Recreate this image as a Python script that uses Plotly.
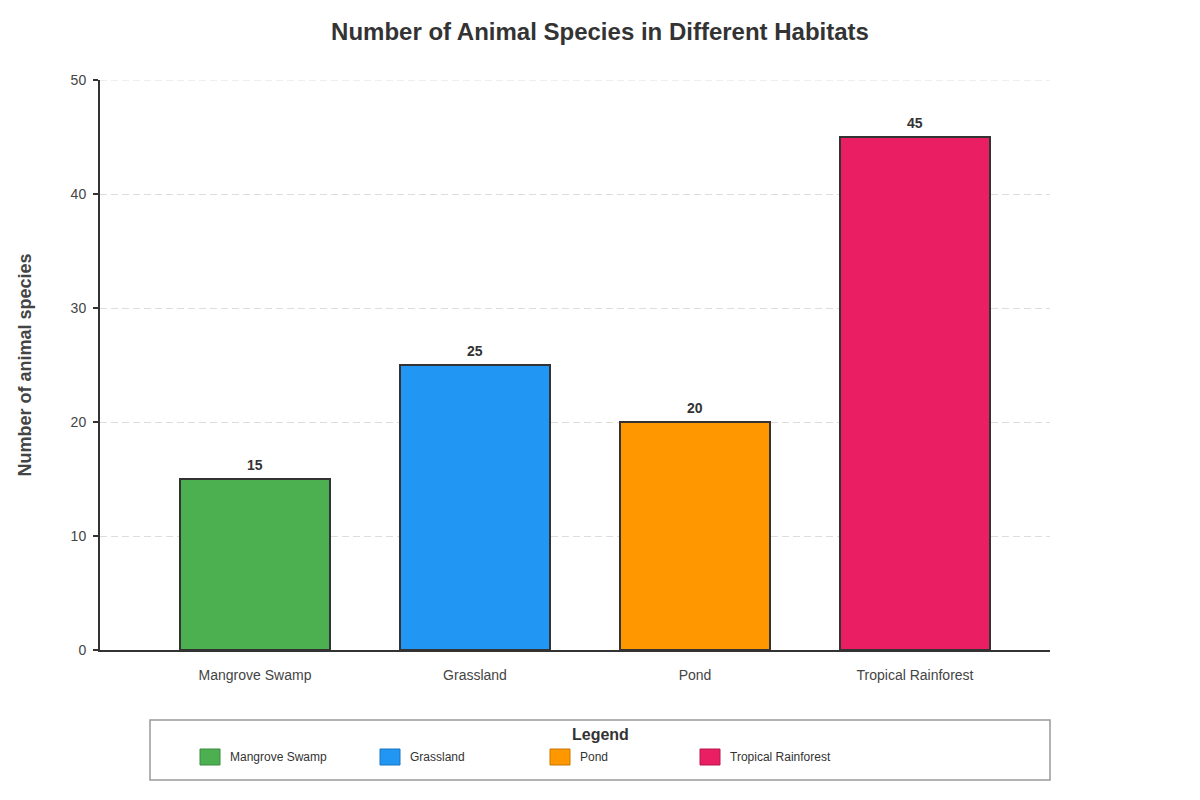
import plotly.graph_objects as go

# chart data
habitats = ["Mangrove Swamp", "Grassland", "Pond", "Tropical Rainforest"]
species_counts = [15, 25, 20, 45]
bar_colors = ["#4CAF50", "#2196F3", "#FF9800", "#E91E63"]
swatch_borders = ["#3b8a3e", "#1a75c0", "#c77700", "#b5174c"]
y_ticks = [0, 10, 20, 30, 40, 50]

FONT = "Liberation Sans, Arial, sans-serif"

# plot area in pixels (for placing the hand-drawn legend)
PLOT_L, PLOT_R, PLOT_T, PLOT_B = 100, 1050, 80, 650


def px_x(px):
    return (px - PLOT_L) / (PLOT_R - PLOT_L)


def px_y(py):
    return (PLOT_B - py) / (PLOT_B - PLOT_T)


fig = go.Figure()

fig.add_trace(go.Bar(
    x=list(range(len(habitats))),
    y=species_counts,
    width=150 / 220,
    marker=dict(color=bar_colors, line=dict(color="#333333", width=2)),
    showlegend=False,
    hoverinfo="skip",
))

# value labels above bars
for i, v in enumerate(species_counts):
    fig.add_annotation(
        x=i, y=v, text=f"<b>{v}</b>", showarrow=False,
        xanchor="center", yanchor="bottom", yshift=4,
        font=dict(family=FONT, size=14, color="#333333"),
    )

fig.update_layout(
    width=1200,
    height=800,
    paper_bgcolor="white",
    plot_bgcolor="white",
    margin=dict(l=PLOT_L, r=1200 - PLOT_R, t=PLOT_T, b=800 - PLOT_B, autoexpand=False),
    font=dict(family=FONT, color="#444444"),
    title=dict(
        text="<b>Number of Animal Species in Different Habitats</b>",
        x=0.5, xanchor="center", y=0.96, yanchor="middle",
        font=dict(family=FONT, size=24, color="#333333"),
    ),
    bargap=0,
    showlegend=False,
)

fig.update_xaxes(
    range=[(PLOT_L - 255) / 220, (PLOT_R - 255) / 220],
    tickmode="array",
    tickvals=list(range(len(habitats))),
    ticktext=habitats,
    ticks="",
    ticklabelstandoff=11,
    tickfont=dict(family=FONT, size=14, color="#444444"),
    showline=True, linecolor="#333333", linewidth=2,
    showgrid=False, zeroline=False, fixedrange=True,
)

fig.update_yaxes(
    range=[0, 50],
    tickmode="array",
    tickvals=y_ticks,
    ticks="outside", ticklen=5, tickwidth=2, tickcolor="#333333",
    ticklabelstandoff=4,
    tickfont=dict(family=FONT, size=14, color="#444444"),
    showline=True, linecolor="#333333", linewidth=2,
    showgrid=True, gridcolor="#dddddd", griddash="7px,4px", gridwidth=1,
    zeroline=False, fixedrange=True,
    title=dict(
        text="<b>Number of animal species</b>",
        font=dict(family=FONT, size=18, color="#444444"),
        standoff=34,
    ),
)

# top gridline (plotly skips the one on the plot edge)
fig.add_hline(y=y_ticks[-1], line=dict(color="#dddddd", width=1, dash="7px,4px"), layer="below")

# legend box drawn by hand
fig.add_shape(
    type="rect", xref="paper", yref="paper",
    x0=px_x(150), x1=px_x(1050), y0=px_y(780), y1=px_y(720),
    line=dict(color="#999999", width=1.5), fillcolor="white",
)
fig.add_annotation(
    xref="paper", yref="paper", x=px_x(600), y=px_y(734),
    text="<b>Legend</b>", showarrow=False, xanchor="center", yanchor="middle",
    font=dict(family=FONT, size=16, color="#333333"),
)

swatch_x = [200, 380, 550, 700]
for sx, name, color, border in zip(swatch_x, habitats, bar_colors, swatch_borders):
    fig.add_shape(
        type="rect", xref="paper", yref="paper",
        x0=px_x(sx), x1=px_x(sx + 20), y0=px_y(765), y1=px_y(749),
        line=dict(color=border, width=1), fillcolor=color,
    )
    fig.add_annotation(
        xref="paper", yref="paper", x=px_x(sx + 28), y=px_y(757),
        text=name, showarrow=False, xanchor="left", yanchor="middle",
        font=dict(family=FONT, size=12, color="#333333"),
    )

# drop the browser's default body margin so the figure sits at (0, 0)
fig.write_html(
    "out.html",
    config={"displayModeBar": False},
    post_script="document.body.style.margin='0';",
)
